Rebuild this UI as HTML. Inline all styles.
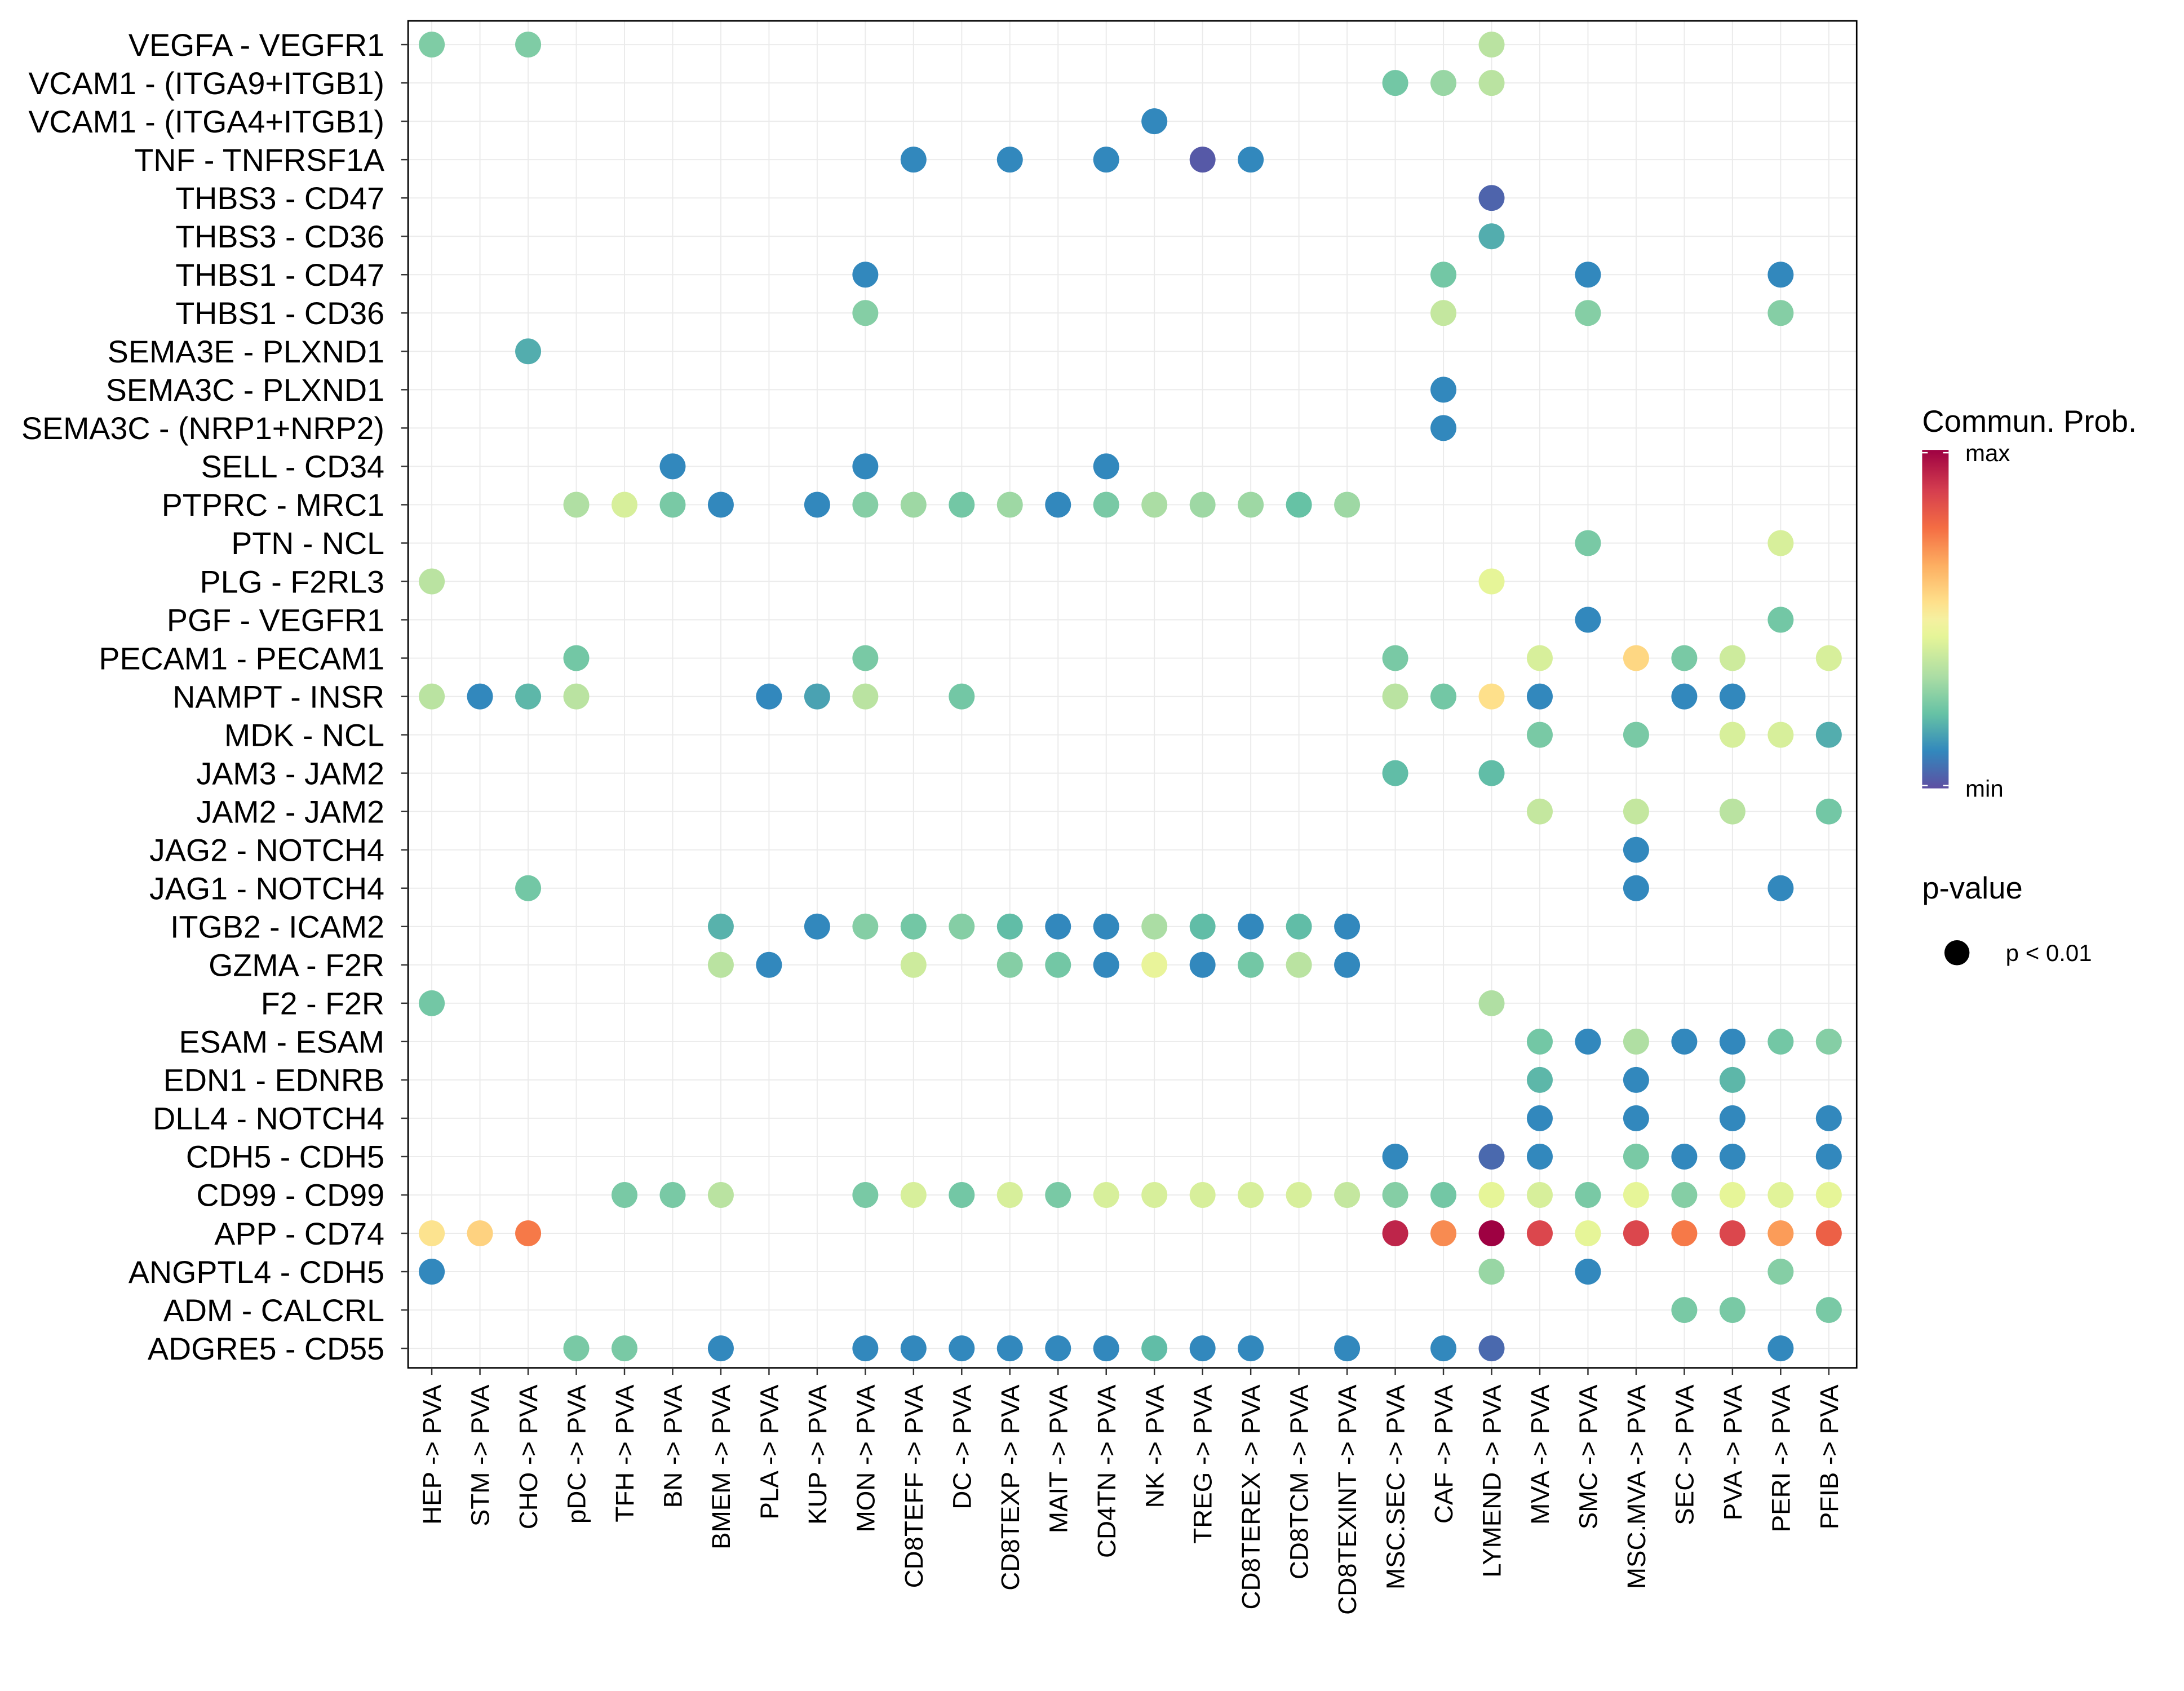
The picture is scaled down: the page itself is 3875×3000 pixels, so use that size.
<!DOCTYPE html>
<html><head><meta charset="utf-8"><style>
html,body{margin:0;padding:0;background:#fff;}
svg{display:block;font-family:"Liberation Sans",Arial,sans-serif;}
</style></head><body>
<svg id="chart" width="3875" height="3000" viewBox="0 0 1568 1214" preserveAspectRatio="none" xmlns="http://www.w3.org/2000/svg">
<defs>
<linearGradient id="cbar" x1="0" y1="1" x2="0" y2="0">
<stop offset="0" stop-color="#5E4FA2"/><stop offset="0.11" stop-color="#3288BD"/><stop offset="0.22" stop-color="#66C2A5"/><stop offset="0.33" stop-color="#ABDDA4"/><stop offset="0.45" stop-color="#E6F598"/><stop offset="0.5" stop-color="#F5F0A0"/><stop offset="0.55" stop-color="#FEE08B"/><stop offset="0.66" stop-color="#FDAE61"/><stop offset="0.77" stop-color="#F46D43"/><stop offset="0.88" stop-color="#D53E4F"/><stop offset="1" stop-color="#9E0142"/>
</linearGradient>
</defs>
<g id="grid"></g>
<g id="dots"></g>
<rect x="293" y="15" width="1040" height="967" fill="none" stroke="#000" stroke-width="1.1"/>
<g id="ticks"></g>
<g id="ylabels"></g>
<g id="xlabels"></g>
<g>
<text x="1380" y="310" font-size="22">Commun. Prob.</text>
<rect x="1380" y="323" width="19" height="243" fill="url(#cbar)"/>
<line x1="1380" y1="325" x2="1384" y2="325" stroke="#fff"/><line x1="1395" y1="325" x2="1399" y2="325" stroke="#fff"/>
<line x1="1380" y1="564" x2="1384" y2="564" stroke="#fff"/><line x1="1395" y1="564" x2="1399" y2="564" stroke="#fff"/>
<text x="1411" y="331" font-size="17">max</text>
<text x="1411" y="572" font-size="17">min</text>
</g>
<g>
<text x="1380" y="645" font-size="22">p-value</text>
<circle cx="1405" cy="684" r="9" fill="#000"/>
<text x="1440" y="690" font-size="17">p &lt; 0.01</text>
</g>
</svg>
<script>
const rowLabels=["VEGFA - VEGFR1","VCAM1 - (ITGA9+ITGB1)","VCAM1 - (ITGA4+ITGB1)","TNF - TNFRSF1A","THBS3 - CD47","THBS3 - CD36","THBS1 - CD47","THBS1 - CD36","SEMA3E - PLXND1","SEMA3C - PLXND1","SEMA3C - (NRP1+NRP2)","SELL - CD34","PTPRC - MRC1","PTN - NCL","PLG - F2RL3","PGF - VEGFR1","PECAM1 - PECAM1","NAMPT - INSR","MDK - NCL","JAM3 - JAM2","JAM2 - JAM2","JAG2 - NOTCH4","JAG1 - NOTCH4","ITGB2 - ICAM2","GZMA - F2R","F2 - F2R","ESAM - ESAM","EDN1 - EDNRB","DLL4 - NOTCH4","CDH5 - CDH5","CD99 - CD99","APP - CD74","ANGPTL4 - CDH5","ADM - CALCRL","ADGRE5 - CD55"];
const colLabels=["HEP -> PVA","STM -> PVA","CHO -> PVA","pDC -> PVA","TFH -> PVA","BN -> PVA","BMEM -> PVA","PLA -> PVA","KUP -> PVA","MON -> PVA","CD8TEFF -> PVA","DC -> PVA","CD8TEXP -> PVA","MAIT -> PVA","CD4TN -> PVA","NK -> PVA","TREG -> PVA","CD8TEREX -> PVA","CD8TCM -> PVA","CD8TEXINT -> PVA","MSC.SEC -> PVA","CAF -> PVA","LYMEND -> PVA","MVA -> PVA","SMC -> PVA","MSC.MVA -> PVA","SEC -> PVA","PVA -> PVA","PERI -> PVA","PFIB -> PVA"];
// per-row columns and values (value 0=min, 1=max)
const rowCols=[[0,2,22],[20,21,22],[15],[10,12,14,16,17],[22],[22],[9,21,24,28],[9,21,24,28],[2],[21],[21],[5,9,14],
[3,4,5,6,8,9,10,11,12,13,14,15,16,17,18,19],[24,28],[0,22],[24,28],[3,9,20,23,25,26,27,29],[0,1,2,3,7,8,9,11,20,21,22,23,26,27],
[23,25,27,28,29],[20,22],[23,25,27,29],[25],[2,25,28],[6,8,9,10,11,12,13,14,15,16,17,18,19],[6,7,10,12,13,14,15,16,17,18,19],
[0,22],[23,24,25,26,27,28,29],[23,25,27],[23,25,27,29],[20,22,23,25,26,27,29],
[4,5,6,9,10,11,12,13,14,15,16,17,18,19,20,21,22,23,24,25,26,27,28,29],[0,1,2,20,21,22,23,24,25,26,27,28,29],
[0,22,24,28],[26,27,29],[3,4,6,9,10,11,12,13,14,15,16,17,19,21,22,28]];
const rowVals=[[0.26,0.26,0.36],[0.24,0.3,0.36],[0.11],[0.11,0.11,0.11,0.02,0.11],[0.04],[0.18],[0.11,0.24,0.11,0.11],[0.27,0.38,0.27,0.27],[0.18],[0.11],[0.11],[0.11,0.11,0.11],
[0.34,0.42,0.25,0.11,0.11,0.27,0.31,0.24,0.31,0.11,0.25,0.33,0.31,0.31,0.22,0.31],[0.25,0.42],[0.36,0.45],[0.11,0.24],[0.24,0.25,0.25,0.42,0.57,0.25,0.4,0.42],
[0.36,0.11,0.2,0.36,0.11,0.16,0.36,0.24,0.36,0.24,0.55,0.11,0.11,0.11],[0.25,0.25,0.42,0.42,0.18],[0.21,0.21],[0.38,0.38,0.36,0.24],[0.11],[0.24,0.11,0.11],
[0.19,0.11,0.27,0.24,0.27,0.21,0.11,0.11,0.33,0.21,0.11,0.21,0.11],[0.36,0.11,0.4,0.27,0.24,0.11,0.46,0.11,0.24,0.36,0.11],[0.24,0.34],
[0.24,0.11,0.34,0.11,0.11,0.24,0.27],[0.2,0.11,0.2],[0.11,0.11,0.11,0.11],[0.11,0.05,0.11,0.25,0.11,0.11,0.11],
[0.25,0.25,0.36,0.25,0.42,0.24,0.42,0.25,0.42,0.42,0.42,0.42,0.42,0.38,0.27,0.24,0.45,0.42,0.25,0.45,0.27,0.45,0.44,0.45],
[0.54,0.58,0.75,0.93,0.72,1.0,0.86,0.45,0.86,0.75,0.86,0.69,0.8],[0.11,0.3,0.11,0.27],[0.25,0.25,0.25],
[0.25,0.25,0.11,0.11,0.11,0.11,0.11,0.11,0.11,0.21,0.11,0.11,0.11,0.11,0.05,0.11]];
const palette=["#5E4FA2","#3288BD","#66C2A5","#ABDDA4","#E6F598","#F5F0A0","#FEE08B","#FDAE61","#F46D43","#D53E4F","#9E0142"];
const paletteStops=[0,0.11,0.22,0.33,0.45,0.5,0.55,0.66,0.77,0.88,1];

const NS="http://www.w3.org/2000/svg";
const x0=310,dx=(1313-310)/29,y0=32,dy=(968-32)/34;
const xPos=i=>x0+i*dx, yPos=j=>y0+j*dy;
function hex2rgb(h){return [1,3,5].map(k=>parseInt(h.substr(k,2),16));}
function colorOf(v){v=Math.max(0,Math.min(1,v));let i=0;while(i<paletteStops.length-2&&v>paletteStops[i+1])i++;
 const f=(v-paletteStops[i])/(paletteStops[i+1]-paletteStops[i]);
 const a=hex2rgb(palette[i]),b=hex2rgb(palette[i+1]);return "rgb("+a.map((c,k)=>Math.round(c+(b[k]-c)*f)).join(",")+")";}
function mk(tag,attrs,parent){const e=document.createElementNS(NS,tag);for(const k in attrs)e.setAttribute(k,attrs[k]);parent.appendChild(e);return e;}
const grid=document.getElementById("grid"),dots=document.getElementById("dots"),yl=document.getElementById("ylabels"),xl=document.getElementById("xlabels"),ticks=document.getElementById("ticks");
colLabels.forEach((c,i)=>{
 const l=mk("line",{x1:xPos(i),x2:xPos(i),y1:15,y2:982,stroke:"#EBEBEB","stroke-width":0.8},grid);
 
 
 const tk=mk("line",{x1:xPos(i),x2:xPos(i),y1:982,y2:987,stroke:"#333","stroke-width":1},ticks);
 
 
 const x=xPos(i)+6.5;
 const t=mk("text",{x:x,y:994,"text-anchor":"end","font-size":18.5,transform:"rotate(-90 "+x+" 994)"},xl);
 t.textContent=c;
 
 
});
rowLabels.forEach((r,j)=>{
 const l=mk("line",{x1:293,x2:1333,y1:yPos(j),y2:yPos(j),stroke:"#EBEBEB","stroke-width":0.8},grid);
 
 
 const tk=mk("line",{x1:288,x2:293,y1:yPos(j),y2:yPos(j),stroke:"#333","stroke-width":1},ticks);
 
 
 const t=mk("text",{x:276,y:yPos(j)+8,"text-anchor":"end","font-size":22.5},yl);
 t.textContent=r;
 
 
 rowCols[j].forEach((c,k)=>{
  const d=mk("circle",{cx:xPos(c),cy:yPos(j),r:9.3,fill:colorOf(rowVals[j][k])},dots);
  
  
 });
});
</script>
</body></html>
